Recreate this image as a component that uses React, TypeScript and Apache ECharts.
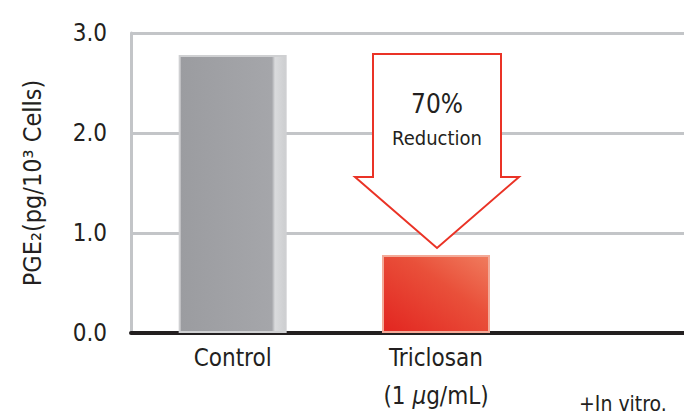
import React, { useEffect, useRef } from "react";
import * as echarts from "echarts";

const categories = ["Control", "Triclosan\n(1 {mu|μ}g/mL)", ""];
const values = [2.78, 0.78];
const yTicks = [0, 1, 2, 3];
const yAxisTitle = "PGE₂(pg/10³ Cells)";
const arrowTop = "70%";
const arrowBottom = "Reduction";
const footnote = "+In vitro.";

const FONT = "'DejaVu Sans Condensed', 'Liberation Sans Narrow', Roboto, sans-serif";
const INK = "#231f20";

export default function App() {
  const ref = useRef<HTMLDivElement>(null);
  useEffect(() => {
    if (!ref.current) return;
    const chart = echarts.init(ref.current, null, { renderer: "svg" });
    const grayBar = {
      color: new echarts.graphic.LinearGradient(0, 0, 1, 0, [
        { offset: 0, color: "#9b9ca0" },
        { offset: 0.87, color: "#a5a6aa" },
        { offset: 0.9, color: "#dadbdd" },
        { offset: 1, color: "#cdced0" },
      ]),
      borderColor: "#cfd0d2",
      borderWidth: 2,
    };
    const redBar = {
      color: new echarts.graphic.LinearGradient(0, 1, 1, 0, [
        { offset: 0, color: "#e22520" },
        { offset: 0.6, color: "#e9503a" },
        { offset: 1, color: "#f07c5e" },
      ]),
      borderColor: "#f3aa98",
      borderWidth: 2,
    };
    chart.setOption({
      animation: false,
      textStyle: { fontFamily: FONT },
      grid: { left: 131, top: 33, height: 300, width: 610, outerBoundsMode: "none", containLabel: false },
      xAxis: {
        type: "category",
        data: categories,
        axisLine: { show: true, lineStyle: { color: INK, width: 4 } },
        axisTick: { show: false },
        axisLabel: {
          interval: 0,
          fontSize: 24,
          color: INK,
          margin: 6,
          lineHeight: 38,
          fontFamily: FONT,
          rich: {
            mu: { fontSize: 24, fontStyle: "italic", color: INK, fontFamily: FONT, lineHeight: 38 },
          },
        },
      },
      yAxis: {
        type: "value",
        min: 0,
        max: 3,
        interval: 1,
        name: yAxisTitle,
        nameLocation: "middle",
        nameGap: 86,
        nameTextStyle: { fontSize: 25, color: INK, fontFamily: FONT },
        axisLine: { show: true, lineStyle: { color: "#c3c5c8", width: 3 } },
        axisTick: { show: false },
        axisLabel: {
          fontSize: 24,
          color: INK,
          margin: 24,
          fontFamily: FONT,
          formatter: (v: number) => (yTicks.includes(v) ? v.toFixed(1) : ""),
        },
        splitLine: { show: true, lineStyle: { color: "#c3c5c8", width: 3 } },
      },
      series: [
        {
          type: "bar",
          barWidth: 108,
          data: [
            { value: values[0], itemStyle: grayBar },
            { value: values[1], itemStyle: redBar },
          ],
          z: 3,
        },
      ],
      graphic: [
        {
          type: "polygon",
          shape: {
            points: [
              [373, 54],
              [501, 54],
              [501, 177],
              [519, 177],
              [437, 248],
              [355, 177],
              [373, 177],
            ],
          },
          style: { fill: "#ffffff", stroke: "#ea3326", lineWidth: 2 },
          z: 10,
        },
        {
          type: "text",
          x: 437,
          y: 104,
          style: {
            text: arrowTop,
            fontSize: 26,
            fill: INK,
            align: "center",
            verticalAlign: "middle",
            fontFamily: FONT,
          },
          z: 11,
        },
        {
          type: "text",
          x: 437,
          y: 138,
          style: {
            text: arrowBottom,
            fontSize: 20,
            fill: INK,
            align: "center",
            verticalAlign: "middle",
            fontFamily: FONT,
          },
          z: 11,
        },
        {
          type: "text",
          x: 579,
          y: 404,
          style: {
            text: footnote,
            fontSize: 21,
            fill: INK,
            align: "left",
            verticalAlign: "middle",
            fontFamily: FONT,
          },
          z: 11,
        },
      ],
    });
    return () => chart.dispose();
  }, []);
  return <div ref={ref} style={{ width: 684, height: 418, position: "absolute", left: 0, top: 0, background: "#fff" }} />;
}
